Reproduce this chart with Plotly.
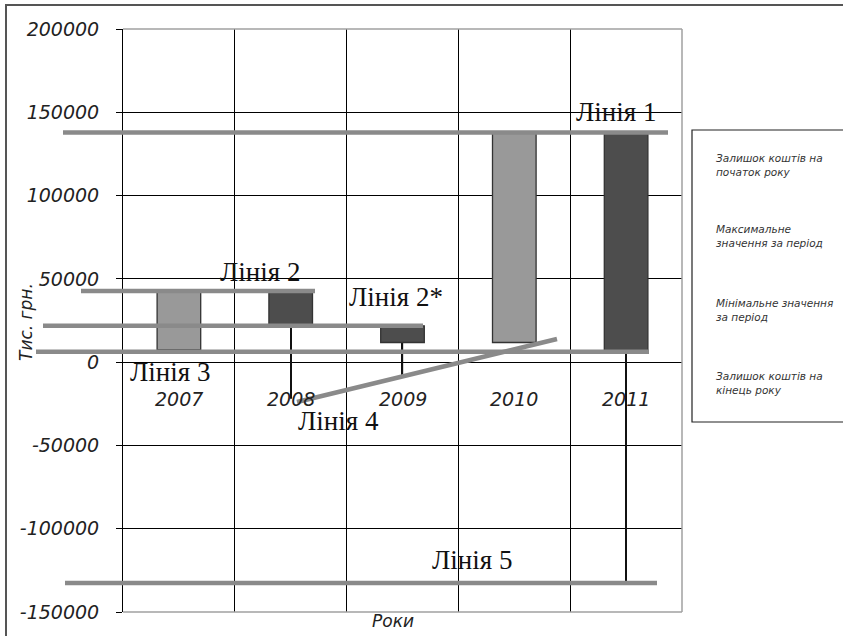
import plotly.graph_objects as go

# ---- data ----
years = ["2007", "2008", "2009", "2010", "2011"]
open_vals = [7300, 42300, 21800, 11800, 137300]
high_vals = [42300, 42300, 21800, 137300, 137300]
low_vals = [7300, -22000, -9000, 11800, -133000]
close_vals = [42300, 21800, 11800, 137300, 5300]

y_tickvals = [200000, 150000, 100000, 50000, 0, -50000, -100000, -150000]
y_ticktext = ["200000", "150000", "100000", "50000", "0", "-50000", "-100000", "-150000"]

legend_labels = [
    "Залишок коштів на<br>початок року",
    "Максимальне<br>значення за період",
    "Мінімальне значення<br>за період",
    "Залишок коштів на<br>кінець року",
]

line_names = ["Лінія 1", "Лінія 2", "Лінія 2*", "Лінія 3", "Лінія 4", "Лінія 5"]
line_levels = [137900, 42700, 21900, 6300, None, -132600]

# ---- layout helpers (pixel -> paper) ----
W, H = 843, 636
L, R, T, B = 123, 682, 29, 612
PW, PH = R - L, B - T


def px(x):
    return (x - L) / PW


def py(y):
    return 1 - (y - T) / PH


LIGHT = "#999999"
DARK = "#4d4d4d"

fig = go.Figure()

# high-low lines (thin bars, drawn behind up/down bars)
fig.add_trace(go.Bar(
    x=years,
    base=low_vals,
    y=[h - l for h, l in zip(high_vals, low_vals)],
    width=0.012,
    marker=dict(color="#111111", line=dict(width=0)),
    showlegend=False, hoverinfo="skip",
))

# up/down bars
bar_colors = [LIGHT if c >= o else DARK for o, c in zip(open_vals, close_vals)]
fig.add_trace(go.Bar(
    x=years,
    base=[min(o, c) for o, c in zip(open_vals, close_vals)],
    y=[abs(c - o) for o, c in zip(open_vals, close_vals)],
    width=0.39,
    marker=dict(color=bar_colors, line=dict(color="#333333", width=1.3)),
    showlegend=False,
))

TICKFONT = dict(family="DejaVu Sans", size=19, color="#222222", style="italic")

fig.update_layout(
    width=W, height=H,
    margin=dict(l=L, r=W - R, t=T, b=H - B, pad=0),
    paper_bgcolor="white", plot_bgcolor="white",
    barmode="overlay",
    showlegend=False,
    xaxis=dict(
        type="category", categoryorder="array", categoryarray=years,
        range=[-0.5, 4.5], tickson="boundaries",
        showgrid=True, gridcolor="black", gridwidth=1,
        showticklabels=False, ticks="", showline=False, zeroline=False,
    ),
    yaxis=dict(
        range=[-150000, 200000], tickvals=y_tickvals, ticktext=y_ticktext,
        showgrid=True, gridcolor="black", gridwidth=1,
        zeroline=True, zerolinecolor="black", zerolinewidth=1,
        showline=True, linecolor="black", linewidth=1,
        ticks="outside", ticklen=6, tickcolor="black", tickwidth=1,
        ticklabelstandoff=13, tickfont=TICKFONT,
    ),
)

shapes = []
# plot-area border (gray) top, right, bottom
for (x0, y0, x1, y1) in [(0, 1, 1, 1), (1, 0, 1, 1), (0, 0, 1, 0)]:
    shapes.append(dict(type="line", xref="paper", yref="paper", x0=x0, y0=y0, x1=x1, y1=y1,
                       line=dict(color="#a0a0a0", width=1.5)))
# outer chart border
shapes.append(dict(type="rect", xref="paper", yref="paper",
                   x0=px(6), x1=px(860), y0=py(5), y1=py(650),
                   line=dict(color="#555555", width=2)))
# legend box
shapes.append(dict(type="rect", xref="paper", yref="paper",
                   x0=px(692), x1=px(860), y0=py(130), y1=py(422),
                   line=dict(color="#222222", width=1.2)))

# annotation lines
GRAY = "#8a8a8a"
LW = 4.5
line_x = [(63, 668), (81, 315), (43, 423), (36, 649), None, (65, 657)]
for lvl, xs in zip(line_levels, line_x):
    if lvl is None:
        continue
    shapes.append(dict(type="line", xref="paper", yref="y", x0=px(xs[0]), x1=px(xs[1]),
                       y0=lvl, y1=lvl, line=dict(color=GRAY, width=LW)))
# Лінія 4 (diagonal)
shapes.append(dict(type="line", xref="paper", yref="paper", x0=px(297), y0=py(402),
                   x1=px(557), y1=py(339), line=dict(color=GRAY, width=LW)))
fig.update_layout(shapes=shapes)

ann = []
# year labels at the zero line
for i, yr in enumerate(years):
    ann.append(dict(x=i, y=0, xref="x", yref="y", text=yr, showarrow=False,
                    yshift=-37, font=TICKFONT))
# line labels
label_pos = [(616, 112), (260, 272), (396, 297), (170, 372), (338, 421), (472, 560)]
for name, (lx, ly) in zip(line_names, label_pos):
    ann.append(dict(x=px(lx), y=py(ly), xref="paper", yref="paper", text=name,
                    showarrow=False, xanchor="center", yanchor="middle",
                    font=dict(family="Liberation Serif", size=27, color="#111111")))
# axis titles
ann.append(dict(x=px(393), y=py(621), xref="paper", yref="paper", text="Роки",
                showarrow=False, xanchor="center", yanchor="middle",
                font=dict(family="DejaVu Sans", size=17, color="#222222", style="italic")))
ann.append(dict(x=px(26), y=py(322), xref="paper", yref="paper", text="Тис. грн.",
                showarrow=False, textangle=-90, xanchor="center", yanchor="middle",
                font=dict(family="DejaVu Sans", size=17, color="#222222", style="italic")))
# legend texts
leg_y = [165, 236, 310, 383]
for txt, ly in zip(legend_labels, leg_y):
    ann.append(dict(x=px(714), y=py(ly), xref="paper", yref="paper", text=txt,
                    showarrow=False, xanchor="left", yanchor="middle", align="left",
                    font=dict(family="DejaVu Sans", size=10.5, color="#333333", style="italic")))
fig.update_layout(annotations=ann)

fig.write_html("out.html")
